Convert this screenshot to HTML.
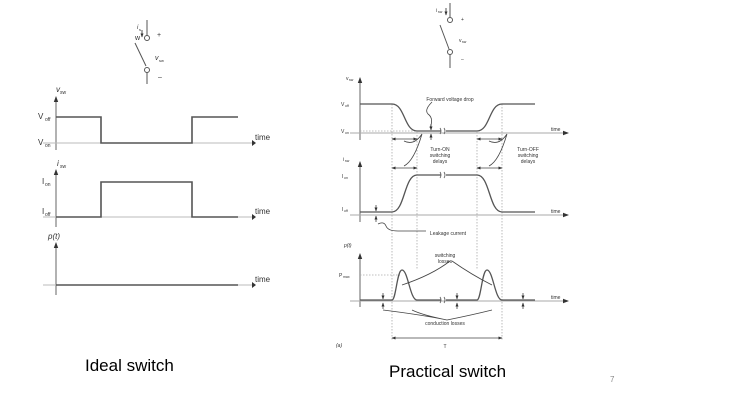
<!DOCTYPE html>
<html><head><meta charset="utf-8"><style>
html,body{margin:0;padding:0;background:#fff;width:747px;height:403px;overflow:hidden}
svg{display:block}
text{font-family:"Liberation Sans",sans-serif;fill:#333}
</style></head><body>
<svg width="747" height="403" viewBox="0 0 747 403" xmlns="http://www.w3.org/2000/svg">
<defs>
<marker id="a" markerUnits="userSpaceOnUse" markerWidth="6" markerHeight="6" refX="5" refY="3" orient="auto-start-reverse"><path d="M0,0.8 L6,3 L0,5.2z" fill="#333"/></marker>
<marker id="b" markerUnits="userSpaceOnUse" markerWidth="4" markerHeight="4" refX="3.5" refY="2" orient="auto-start-reverse"><path d="M0,0.5 L4,2 L0,3.5z" fill="#333"/></marker>
</defs>
<!-- LEFT switch -->
<g stroke="#555" stroke-width="1" fill="none">
<line x1="147" y1="20" x2="147" y2="36"/><circle cx="147" cy="38" r="2.5" fill="#fff"/>
<line x1="135" y1="43" x2="146" y2="66"/>
<circle cx="147" cy="70" r="2.5" fill="#fff"/><line x1="147" y1="72" x2="147" y2="84"/>
<line x1="142" y1="30" x2="142" y2="37" marker-end="url(#b)"/>
</g>
<text x="137" y="29" font-size="6" font-style="italic">i</text><text x="139" y="31" font-size="4">s</text>
<text x="135" y="40" font-size="7">w</text>
<text x="157" y="37" font-size="7">+</text>
<text x="155" y="60" font-size="7" font-style="italic">v</text><text x="159" y="62" font-size="4">sw</text>
<text x="158" y="79" font-size="7">–</text>
<!-- left axes -->
<g stroke="#666" stroke-width="1" fill="none">
<line x1="56" y1="150" x2="56" y2="97" marker-end="url(#a)"/>
<line x1="56" y1="227" x2="56" y2="170" marker-end="url(#a)"/>
<line x1="56" y1="295" x2="56" y2="243" marker-end="url(#a)"/>
</g>
<g stroke="#bbb" stroke-width="1">
<line x1="43" y1="143" x2="252" y2="143"/><line x1="43" y1="217" x2="252" y2="217"/><line x1="43" y1="285" x2="252" y2="285"/>
</g>
<g stroke="#555" stroke-width="1.6" fill="none">
<polyline points="56,117 101,117 101,143 192,143 192,117 238,117"/>
<polyline points="56,217 101,217 101,182 192,182 192,217 238,217"/>
<line x1="56" y1="285" x2="238" y2="285"/>
</g>
<g fill="#333"><path d="M252,140 l4,3 l-4,3z"/><path d="M252,214 l4,3 l-4,3z"/><path d="M252,282 l4,3 l-4,3z"/></g>
<g font-size="8">
<text x="255" y="140">time</text><text x="255" y="214">time</text><text x="255" y="282">time</text>
<text x="38" y="119">V</text><text x="45" y="121" font-size="5">off</text>
<text x="38" y="145">V</text><text x="45" y="147" font-size="5">on</text>
<text x="42" y="184">I</text><text x="45" y="186" font-size="5">on</text>
<text x="42" y="214">I</text><text x="45" y="216" font-size="5">off</text>
<text x="56" y="92" font-style="italic">v</text><text x="60" y="94" font-size="5">sw</text>
<text x="57" y="166" font-style="italic">i</text><text x="60" y="168" font-size="5">sw</text>
<text x="48" y="239" font-style="italic">p(t)</text>
</g>
<!-- RIGHT switch -->
<g stroke="#555" stroke-width="1" fill="none">
<line x1="450" y1="3" x2="450" y2="17"/><circle cx="450" cy="20" r="2.5" fill="#fff"/>
<line x1="440" y1="25" x2="449" y2="49"/>
<circle cx="450" cy="52" r="2.5" fill="#fff"/><line x1="450" y1="54" x2="450" y2="68"/>
<line x1="446" y1="8" x2="446" y2="15" marker-end="url(#b)"/>
</g>
<text x="436" y="12" font-size="5">i</text><text x="438" y="13" font-size="3.5">sw</text>
<text x="461" y="21" font-size="5">+</text>
<text x="459" y="42" font-size="5">v</text><text x="462" y="43" font-size="3.5">sw</text>
<text x="461" y="61" font-size="5">–</text>
<!-- right axes -->
<g stroke="#666" stroke-width="1" fill="none">
<line x1="360" y1="140" x2="360" y2="78" marker-end="url(#a)"/>
<line x1="360" y1="222" x2="360" y2="162" marker-end="url(#a)"/>
<line x1="360" y1="307" x2="360" y2="254" marker-end="url(#a)"/>
<line x1="350" y1="133" x2="568" y2="133" stroke="#aaa" marker-end="url(#a)"/>
<line x1="350" y1="215" x2="568" y2="215" stroke="#aaa" marker-end="url(#a)"/>
<line x1="350" y1="301" x2="568" y2="301" stroke="#aaa" marker-end="url(#a)"/>
</g>
<g stroke="#aaa" stroke-width="0.8" stroke-dasharray="1.5,1.5" fill="none">
<line x1="392" y1="104" x2="392" y2="340"/><line x1="417" y1="132" x2="417" y2="270"/>
<line x1="477" y1="132" x2="477" y2="270"/><line x1="502" y1="104" x2="502" y2="340"/>
<line x1="360" y1="131" x2="417" y2="131"/><line x1="360" y1="275" x2="400" y2="275"/>
</g>
<g stroke="#555" stroke-width="1.3" fill="none">
<path d="M360,104 H392 C405,104 404,131 417,131 H441 M446,131 H477 C490,131 489,104 502,104 H535"/>
<path d="M360,212 H392 C405,212 404,175 417,175 H441 M446,175 H477 C490,175 489,212 502,212 H535"/>
<path d="M360,300 H392 C396,300 397,270 402,270 C408,270 410,300 417,300 H441 M446,300 H477 C481,300 482,270 487,270 C493,270 495,300 502,300 H535"/>
<path d="M440,128 q2,3 0,6 M444,128 q2,3 0,6 M440,172 q2,3 0,6 M444,172 q2,3 0,6 M440,297 q2,3 0,6 M444,297 q2,3 0,6" stroke-width="0.8"/>
</g>
<g stroke="#444" stroke-width="0.8" fill="none">
<line x1="392" y1="139" x2="417" y2="139" marker-start="url(#b)" marker-end="url(#b)"/>
<line x1="392" y1="168" x2="417" y2="168" marker-start="url(#b)" marker-end="url(#b)"/>
<line x1="477" y1="139" x2="502" y2="139" marker-start="url(#b)" marker-end="url(#b)"/>
<line x1="477" y1="168" x2="502" y2="168" marker-start="url(#b)" marker-end="url(#b)"/>
<line x1="392" y1="338" x2="502" y2="338" marker-start="url(#b)" marker-end="url(#b)"/>
<path d="M404,141 q10,5 18,-7 M404,166 q10,-5 18,-32"/>
<path d="M489,141 q10,5 18,-7 M489,166 q10,-5 18,-32"/>
<path d="M430,128 q4,-10 -2,-14 q-4,-4 4,-12"/>
<path d="M378,224 q6,-3 8,2 q2,5 12,5 l28,0"/>
<path d="M402,285 q30,-10 48,-24 M492,285 q-20,-10 -40,-24"/>
<path d="M383,310 q40,5 64,10 M412,310 q10,5 35,10 M492,310 q-20,5 -45,10"/>
<line x1="376" y1="205" x2="376" y2="211" marker-end="url(#b)"/>
<line x1="376" y1="222" x2="376" y2="216" marker-end="url(#b)"/>
<line x1="431" y1="124" x2="431" y2="130" marker-end="url(#b)"/>
<line x1="431" y1="140" x2="431" y2="134" marker-end="url(#b)"/>
<line x1="383" y1="293" x2="383" y2="299" marker-end="url(#b)"/>
<line x1="383" y1="309" x2="383" y2="303" marker-end="url(#b)"/>
<line x1="457" y1="293" x2="457" y2="299" marker-end="url(#b)"/>
<line x1="457" y1="309" x2="457" y2="303" marker-end="url(#b)"/>
<line x1="523" y1="293" x2="523" y2="299" marker-end="url(#b)"/>
<line x1="523" y1="309" x2="523" y2="303" marker-end="url(#b)"/>
</g>
<g font-size="5" text-anchor="middle">
<text x="450" y="101">Forward voltage drop</text>
<text x="440" y="151">Turn-ON</text><text x="440" y="157">switching</text><text x="440" y="163">delays</text>
<text x="528" y="151">Turn-OFF</text><text x="528" y="157">switching</text><text x="528" y="163">delays</text>
<text x="448" y="235">Leakage current</text>
<text x="445" y="257">switching</text><text x="445" y="263">losses</text>
<text x="445" y="325">conduction losses</text>
<text x="445" y="348">T</text>
</g>
<g font-size="5">
<text x="551" y="131">time</text><text x="551" y="213">time</text><text x="551" y="299">time</text>
<text x="341" y="106">V</text><text x="345" y="107" font-size="3.5">off</text>
<text x="341" y="133">V</text><text x="345" y="134" font-size="3.5">on</text>
<text x="342" y="178">I</text><text x="344" y="179" font-size="3.5">on</text>
<text x="342" y="211">I</text><text x="344" y="212" font-size="3.5">off</text>
<text x="339" y="277">P</text><text x="343" y="278" font-size="3.5">max</text>
<text x="346" y="80">v</text><text x="349" y="81" font-size="3.5">sw</text>
<text x="343" y="161">i</text><text x="345" y="162" font-size="3.5">sw</text>
<text x="344" y="247" font-style="italic">p(t)</text>
<text x="336" y="347" font-style="italic">(a)</text>
</g>
<text x="85" y="371" font-size="17" style="fill:#000">Ideal switch</text>
<text x="389" y="377" font-size="17" style="fill:#000">Practical switch</text>
<text x="610" y="382" font-size="8" style="fill:#888">7</text>
</svg>
</body></html>
